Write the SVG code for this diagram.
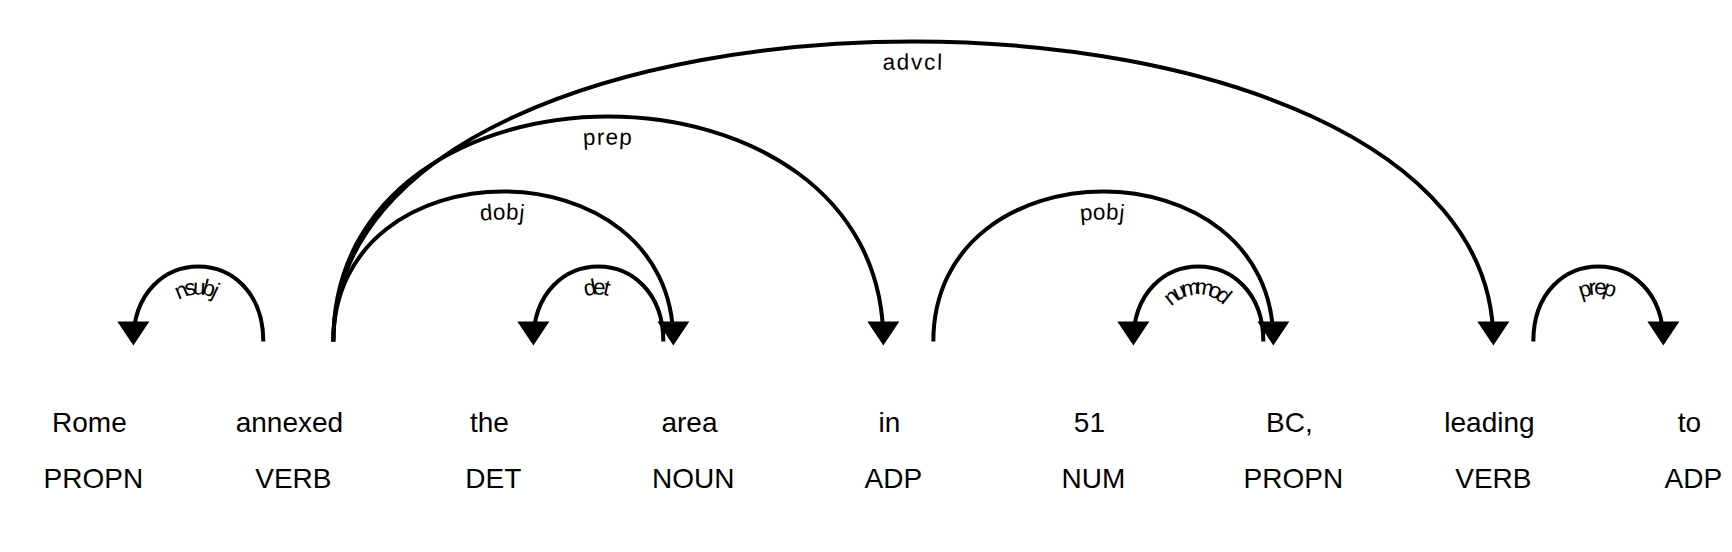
<svg xmlns="http://www.w3.org/2000/svg" width="1732" height="552" viewBox="0 0 1732 552">
<style>
.word { font-family: "Liberation Sans", Arial, sans-serif; font-size: 28px; fill: #000000; }
.arc { fill: none; stroke: #000000; stroke-width: 4px; }
.head { fill: #000000; }
.lbl { font-family: "Liberation Sans", Arial, sans-serif; font-size: 22.4px; letter-spacing: 2px; fill: #000000; }
</style>
<rect x="0" y="0" width="1732" height="552" fill="#ffffff"/>
<g id="token-0"><text class="word" text-anchor="middle" y="431.5"><tspan x="89.44">Rome</tspan><tspan x="93.33" dy="2em">PROPN</tspan></text></g>
<g id="token-1"><text class="word" text-anchor="middle" y="431.5"><tspan x="289.44">annexed</tspan><tspan x="293.33" dy="2em">VERB</tspan></text></g>
<g id="token-2"><text class="word" text-anchor="middle" y="431.5"><tspan x="489.44">the</tspan><tspan x="493.33" dy="2em">DET</tspan></text></g>
<g id="token-3"><text class="word" text-anchor="middle" y="431.5"><tspan x="689.44">area</tspan><tspan x="693.33" dy="2em">NOUN</tspan></text></g>
<g id="token-4"><text class="word" text-anchor="middle" y="431.5"><tspan x="889.44">in</tspan><tspan x="893.33" dy="2em">ADP</tspan></text></g>
<g id="token-5"><text class="word" text-anchor="middle" y="431.5"><tspan x="1089.44">51</tspan><tspan x="1093.33" dy="2em">NUM</tspan></text></g>
<g id="token-6"><text class="word" text-anchor="middle" y="431.5"><tspan x="1289.44">BC,</tspan><tspan x="1293.33" dy="2em">PROPN</tspan></text></g>
<g id="token-7"><text class="word" text-anchor="middle" y="431.5"><tspan x="1489.44">leading</tspan><tspan x="1493.33" dy="2em">VERB</tspan></text></g>
<g id="token-8"><text class="word" text-anchor="middle" y="431.5"><tspan x="1689.44">to</tspan><tspan x="1693.33" dy="2em">ADP</tspan></text></g>
<g id="connectors">
<g id="arc-nsubj">
<path class="arc" id="arrow-0" d="M133.33,341.5 C133.33,241.5 263.33,241.5 263.33,341.5"/>
<text class="lbl" dy="1.25em"><textPath href="#arrow-0" startOffset="50%" text-anchor="middle">nsubj</textPath></text>
<path class="head" d="M133.33,345.5 L117.33,321.5 149.33,321.5 Z"/>
</g>
<g id="arc-dobj">
<path class="arc" id="arrow-1" d="M333.33,341.5 C333.33,141.5 673.33,141.5 673.33,341.5"/>
<text class="lbl" dy="1.25em"><textPath href="#arrow-1" startOffset="50%" text-anchor="middle">dobj</textPath></text>
<path class="head" d="M673.33,345.5 L689.33,321.5 657.33,321.5 Z"/>
</g>
<g id="arc-det">
<path class="arc" id="arrow-2" d="M533.33,341.5 C533.33,241.5 663.33,241.5 663.33,341.5"/>
<text class="lbl" dy="1.25em"><textPath href="#arrow-2" startOffset="50%" text-anchor="middle">det</textPath></text>
<path class="head" d="M533.33,345.5 L517.33,321.5 549.33,321.5 Z"/>
</g>
<g id="arc-prep-1">
<path class="arc" id="arrow-3" d="M333.33,341.5 C333.33,41.5 883.33,41.5 883.33,341.5"/>
<text class="lbl" dy="1.25em"><textPath href="#arrow-3" startOffset="50%" text-anchor="middle">prep</textPath></text>
<path class="head" d="M883.33,345.5 L899.33,321.5 867.33,321.5 Z"/>
</g>
<g id="arc-pobj">
<path class="arc" id="arrow-4" d="M933.33,341.5 C933.33,141.5 1273.33,141.5 1273.33,341.5"/>
<text class="lbl" dy="1.25em"><textPath href="#arrow-4" startOffset="50%" text-anchor="middle">pobj</textPath></text>
<path class="head" d="M1273.33,345.5 L1289.33,321.5 1257.33,321.5 Z"/>
</g>
<g id="arc-nummod">
<path class="arc" id="arrow-5" d="M1133.33,341.5 C1133.33,241.5 1263.33,241.5 1263.33,341.5"/>
<text class="lbl" dy="1.25em"><textPath href="#arrow-5" startOffset="50%" text-anchor="middle">nummod</textPath></text>
<path class="head" d="M1133.33,345.5 L1117.33,321.5 1149.33,321.5 Z"/>
</g>
<g id="arc-advcl">
<path class="arc" id="arrow-6" d="M333.33,341.5 C333.33,-58.5 1493.33,-58.5 1493.33,341.5"/>
<text class="lbl" dy="1.25em"><textPath href="#arrow-6" startOffset="50%" text-anchor="middle">advcl</textPath></text>
<path class="head" d="M1493.33,345.5 L1509.33,321.5 1477.33,321.5 Z"/>
</g>
<g id="arc-prep-2">
<path class="arc" id="arrow-7" d="M1533.33,341.5 C1533.33,241.5 1663.33,241.5 1663.33,341.5"/>
<text class="lbl" dy="1.25em"><textPath href="#arrow-7" startOffset="50%" text-anchor="middle">prep</textPath></text>
<path class="head" d="M1663.33,345.5 L1679.33,321.5 1647.33,321.5 Z"/>
</g>
</g>
</svg>
